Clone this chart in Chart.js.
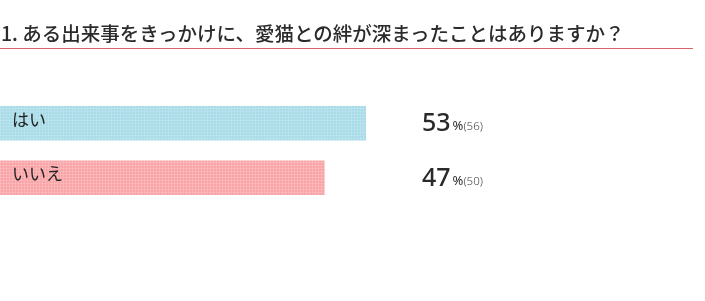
<!DOCTYPE html>
<html lang="ja">
<head>
<meta charset="utf-8">
<script src="https://cdn.jsdelivr.net/npm/chart.js@4.4.1/dist/chart.umd.min.js"></script>
<style>
  html, body { margin: 0; padding: 0; background: #fff; }
  #wrap { position: relative; width: 705px; height: 301px; overflow: hidden; }
  #title {
    position: absolute; left: 1px; top: 20px; width: 694px;
    font-family: "Noto Sans CJK JP", sans-serif; font-size: 19.5px; font-weight: 500;
    color: #2b2b2b; line-height: 26px;
  }
  #rule { position: absolute; left: 0; top: 48px; width: 693px; height: 1px; background: #d9646c; }
  #chart { position: absolute; left: 0; top: 0; }
</style>
</head>
<body>
<div id="wrap">
  <canvas id="chart" width="705" height="301"></canvas>
  <div id="title">1. ある出来事をきっかけに、愛猫との絆が深まったことはありますか？</div>
  <div id="rule"></div>
</div>
<script>
// Data
const categories = ['はい', 'いいえ'];
const percents = [53, 47];
const counts = [56, 50];
const barColors = ['#a9dce8', '#f9a5a8'];

// Fine grid texture like the original bars
function makePattern(color) {
    const c = document.createElement('canvas');
    c.width = 3; c.height = 3;
    const g = c.getContext('2d');
    g.fillStyle = color;
    g.fillRect(0, 0, 3, 3);
    g.fillStyle = 'rgba(255,255,255,0.15)';
    g.fillRect(0, 0, 3, 1);
    g.fillRect(0, 0, 1, 3);
    return g.createPattern(c, 'repeat');
}

// Draw labels inside bars and the percentage column
const labelPlugin = {
    id: 'labels',
    afterDatasetsDraw(chart) {
        const ctx = chart.ctx;
        const meta = chart.getDatasetMeta(0);
        ctx.save();
        meta.data.forEach(function(bar, i) {
            const y = bar.y;
            ctx.fillStyle = '#222';
            ctx.textBaseline = 'middle';
            ctx.font = '400 17px "Noto Sans CJK JP", sans-serif';
            ctx.fillText(categories[i], 12, y - 4);

            const x = 422;
            const base = y + 8;
            ctx.textBaseline = 'alphabetic';
            ctx.fillStyle = '#2a2a2a';
            ctx.font = '500 25px "Noto Sans", sans-serif';
            const big = String(percents[i]);
            ctx.fillText(big, x, base);
            let w = ctx.measureText(big).width + 2;
            ctx.font = '400 13px "Noto Sans", sans-serif';
            ctx.fillText('%', x + w, base - 1);
            w += ctx.measureText('%').width;
            ctx.font = '300 11.5px "Noto Sans", sans-serif';
            ctx.fillStyle = '#444';
            ctx.fillText('(' + counts[i] + ')', x + w, base - 1);
        });
        ctx.restore();
    }
};

const ctx = document.getElementById('chart').getContext('2d');
new Chart(ctx, {
    type: 'bar',
    data: {
        labels: categories,
        datasets: [{
            data: percents,
            backgroundColor: barColors.map(makePattern),
            borderWidth: 0,
            barThickness: 34
        }]
    },
    options: {
        indexAxis: 'y',
        responsive: false,
        animation: false,
        layout: { padding: { top: 96, bottom: 96, left: 0, right: 15 } },
        plugins: {
            legend: { display: false },
            tooltip: { enabled: false }
        },
        scales: {
            x: { display: false, min: 0, max: 100 },
            y: { display: false }
        }
    },
    plugins: [labelPlugin]
});
</script>
</body>
</html>
